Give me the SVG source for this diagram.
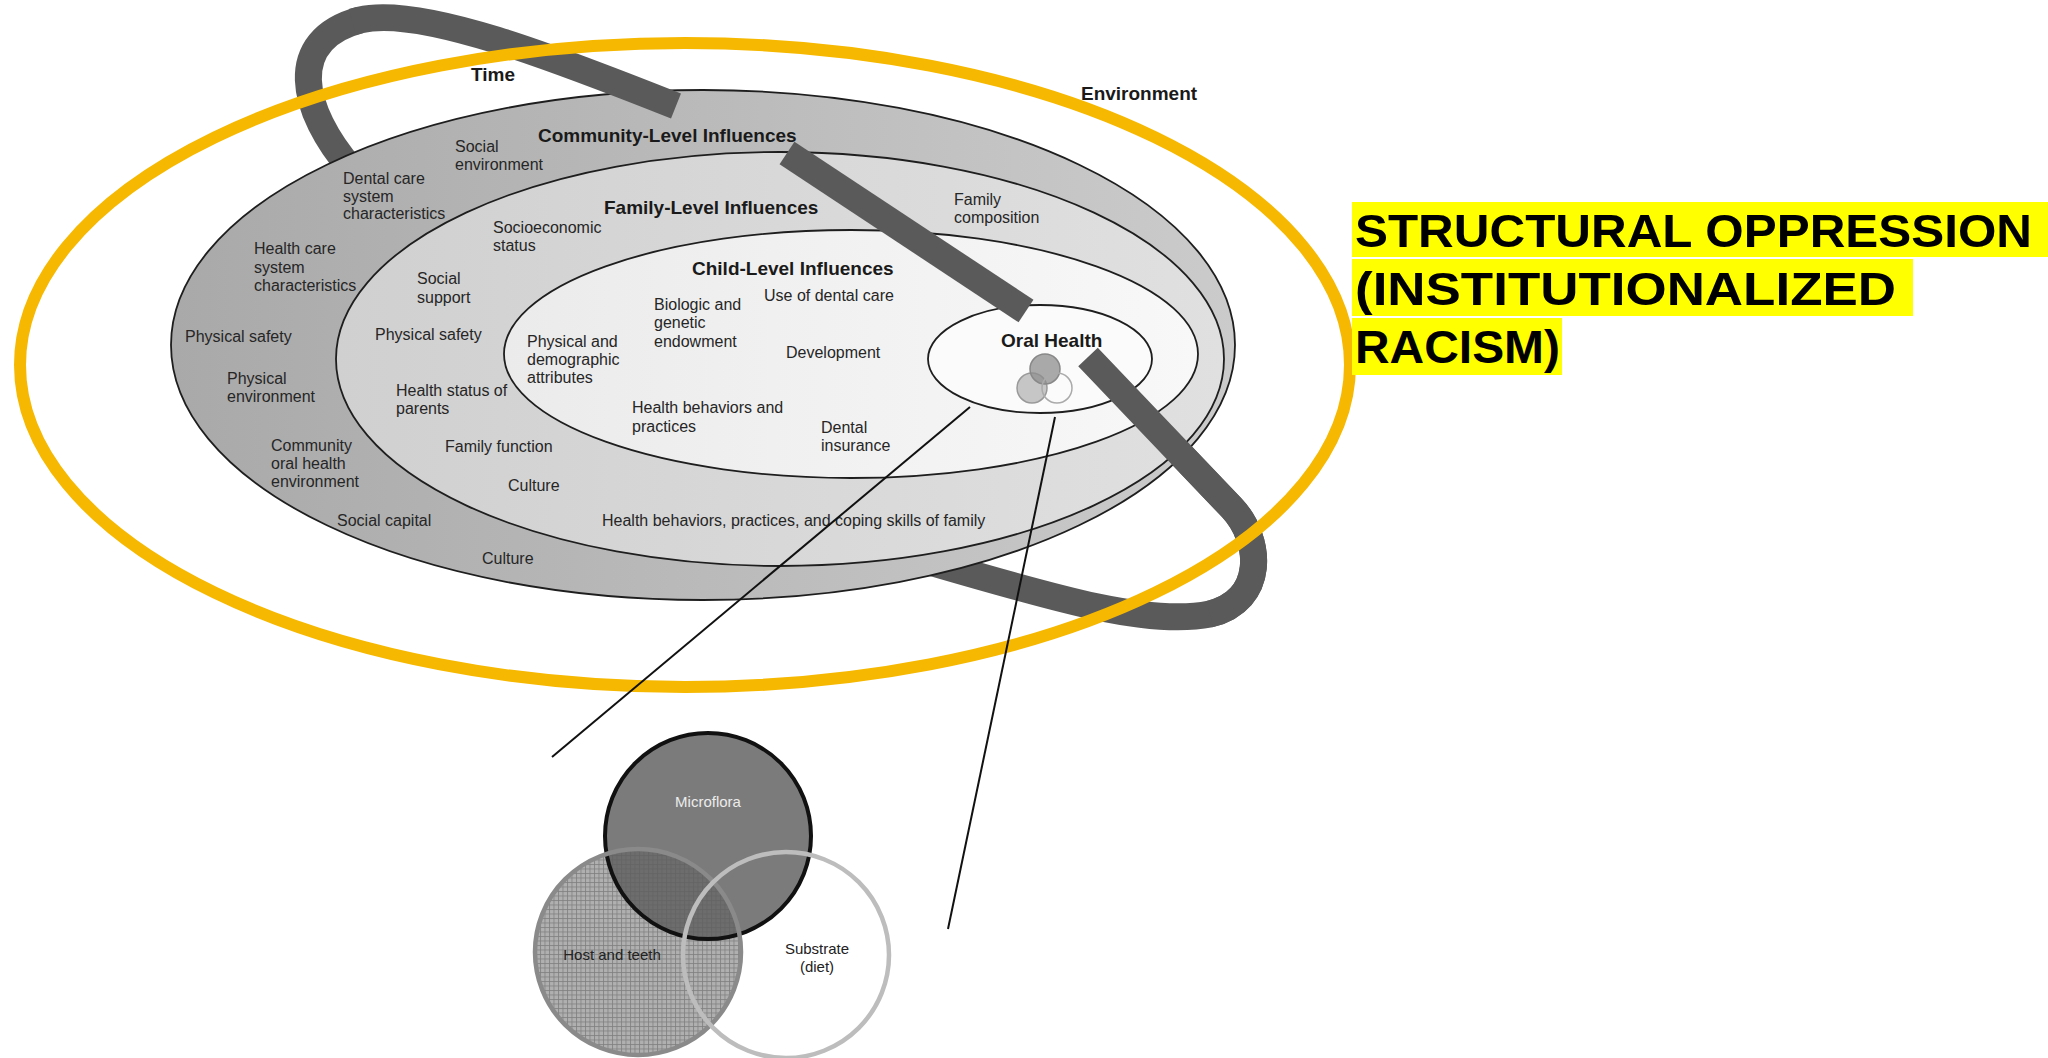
<svg xmlns="http://www.w3.org/2000/svg" width="2048" height="1058" viewBox="0 0 2048 1058">
<defs>
<style>
.t{font-family:"Liberation Sans",Arial,sans-serif;font-size:16px;fill:#262626}
.h{font-family:"Liberation Sans",Arial,sans-serif;font-size:19px;font-weight:bold;fill:#1a1a1a}
.disk{stroke:#1e1e1e;stroke-width:1.8}
.band{fill:none;stroke:#5a5a5a;stroke-width:27;stroke-linecap:butt}
.conn{stroke:#111;stroke-width:2;fill:none}
.big{font-family:"Liberation Sans",Arial,sans-serif;font-size:47px;font-weight:bold;fill:#000}
.hl{fill:#ffff00}
.vt{font-family:"Liberation Sans",Arial,sans-serif;font-size:15px;text-anchor:middle}
</style>
<linearGradient id="gCom" x1="0" y1="0" x2="1" y2="0"><stop offset="0" stop-color="#a9a9a9"/><stop offset="1" stop-color="#cbcbcb"/></linearGradient>
<linearGradient id="gFam" x1="0" y1="0" x2="1" y2="0"><stop offset="0" stop-color="#d0d0d0"/><stop offset="1" stop-color="#e0e0e0"/></linearGradient>
<linearGradient id="gChi" x1="0" y1="0" x2="1" y2="0"><stop offset="0" stop-color="#ebebeb"/><stop offset="1" stop-color="#f8f8f8"/></linearGradient>
<pattern id="grid" width="4.5" height="4.5" patternUnits="userSpaceOnUse"><rect width="4.5" height="4.5" fill="#b0b0b0"/><path d="M0 0.5H4.5M0.5 0V4.5" stroke="#7e7e7e" stroke-width="0.8"/></pattern>
</defs>
<rect width="2048" height="1058" fill="#ffffff"/>

<g id="time-band-back">
<path class="band" d="M352 170 C300 110 285 40 360 20"/>
<path class="band" d="M1088 357 L1232 508 C1262 540 1266 600 1210 614 C1150 626 1060 600 930 562"/>
</g>

<g id="community">
<ellipse class="disk" cx="703" cy="345" rx="532" ry="255" fill="url(#gCom)"/>
<text class="h" x="538" y="142">Community-Level Influences</text>
<text class="t" x="455" y="152">Social</text>
<text class="t" x="455" y="170">environment</text>
<text class="t" x="343" y="184">Dental care</text>
<text class="t" x="343" y="202">system</text>
<text class="t" x="343" y="219">characteristics</text>
<text class="t" x="254" y="254">Health care</text>
<text class="t" x="254" y="273">system</text>
<text class="t" x="254" y="291">characteristics</text>
<text class="t" x="185" y="342">Physical safety</text>
<text class="t" x="227" y="384">Physical</text>
<text class="t" x="227" y="402">environment</text>
<text class="t" x="271" y="451">Community</text>
<text class="t" x="271" y="469">oral health</text>
<text class="t" x="271" y="487">environment</text>
<text class="t" x="337" y="526">Social capital</text>
<text class="t" x="482" y="564">Culture</text>
</g>

<g id="family">
<ellipse class="disk" cx="780" cy="359" rx="444" ry="207" fill="url(#gFam)"/>
<text class="h" x="604" y="214">Family-Level Influences</text>
<text class="t" x="493" y="233">Socioeconomic</text>
<text class="t" x="493" y="251">status</text>
<text class="t" x="954" y="205">Family</text>
<text class="t" x="954" y="223">composition</text>
<text class="t" x="417" y="284">Social</text>
<text class="t" x="417" y="303">support</text>
<text class="t" x="375" y="340">Physical safety</text>
<text class="t" x="396" y="396">Health status of</text>
<text class="t" x="396" y="414">parents</text>
<text class="t" x="445" y="452">Family function</text>
<text class="t" x="508" y="491">Culture</text>
<text class="t" x="602" y="526">Health behaviors, practices, and coping skills of family</text>
</g>

<g id="child">
<ellipse class="disk" cx="851" cy="354" rx="347" ry="124" fill="url(#gChi)"/>
<text class="h" x="692" y="275">Child-Level Influences</text>
<text class="t" x="764" y="301">Use of dental care</text>
<text class="t" x="654" y="310">Biologic and</text>
<text class="t" x="654" y="328">genetic</text>
<text class="t" x="654" y="347">endowment</text>
<text class="t" x="527" y="347">Physical and</text>
<text class="t" x="527" y="365">demographic</text>
<text class="t" x="527" y="383">attributes</text>
<text class="t" x="786" y="358">Development</text>
<text class="t" x="632" y="413">Health behaviors and</text>
<text class="t" x="632" y="432">practices</text>
<text class="t" x="821" y="433">Dental</text>
<text class="t" x="821" y="451">insurance</text>
</g>

<g id="oral-health">
<ellipse class="disk" cx="1040" cy="359" rx="112" ry="54" fill="#fbfbfb"/>
<text class="h" x="1001" y="347">Oral Health</text>
<circle cx="1032" cy="388" r="15" fill="#b4b4b4" fill-opacity="0.75" stroke="#999" stroke-width="1.5"/>
<circle cx="1045" cy="369" r="15" fill="#8e8e8e" fill-opacity="0.75" stroke="#888" stroke-width="1.5"/>
<circle cx="1057" cy="388" r="15" fill="none" stroke="#aaa" stroke-width="1.5"/>
</g>

<g id="time-band-front">
<path class="band" d="M352.3 22.1 L360 20 C420 5 560 60 676 106"/>
<path class="band" d="M787 153 L1026 311"/>
<path class="band" d="M1088 357 L1232 508 C1262 540 1266 600 1210 614"/>
</g>

<g id="time"><text class="h" x="471" y="81">Time</text></g>
<g id="environment"><text class="h" x="1081" y="100">Environment</text></g>

<g id="structural-oppression">
<ellipse cx="685" cy="365" rx="665" ry="322" fill="none" stroke="#f6b800" stroke-width="12"/>
<rect class="hl" x="1352" y="202" width="696" height="55"/>
<rect class="hl" x="1352" y="259" width="561" height="57"/>
<rect class="hl" x="1352" y="318" width="210" height="57"/>
<text class="big" x="1355" y="247" textLength="677" lengthAdjust="spacingAndGlyphs">STRUCTURAL OPPRESSION</text>
<text class="big" x="1355" y="305" textLength="541" lengthAdjust="spacingAndGlyphs">(INSTITUTIONALIZED</text>
<text class="big" x="1355" y="363" textLength="205" lengthAdjust="spacingAndGlyphs">RACISM)</text>
</g>

<g id="connectors">
<line class="conn" x1="970" y1="407" x2="552" y2="757"/>
<line class="conn" x1="1055" y1="417" x2="948" y2="929"/>
</g>

<g id="venn">
<circle cx="638" cy="952" r="103" fill="url(#grid)"/>
<circle cx="708" cy="836" r="103" fill="#5e5e5e" fill-opacity="0.82" stroke="#111" stroke-width="4"/>
<circle cx="638" cy="952" r="103" fill="none" stroke="#8a8a8a" stroke-width="4.5"/>
<circle cx="786" cy="955" r="103" fill="none" stroke="#bdbdbd" stroke-width="4.5"/>
<text class="vt" x="708" y="807" fill="#ececec">Microflora</text>
<text class="vt" x="612" y="960" fill="#222">Host and teeth</text>
<text class="vt" x="817" y="954" fill="#222">Substrate</text>
<text class="vt" x="817" y="972" fill="#222">(diet)</text>
</g>
</svg>
